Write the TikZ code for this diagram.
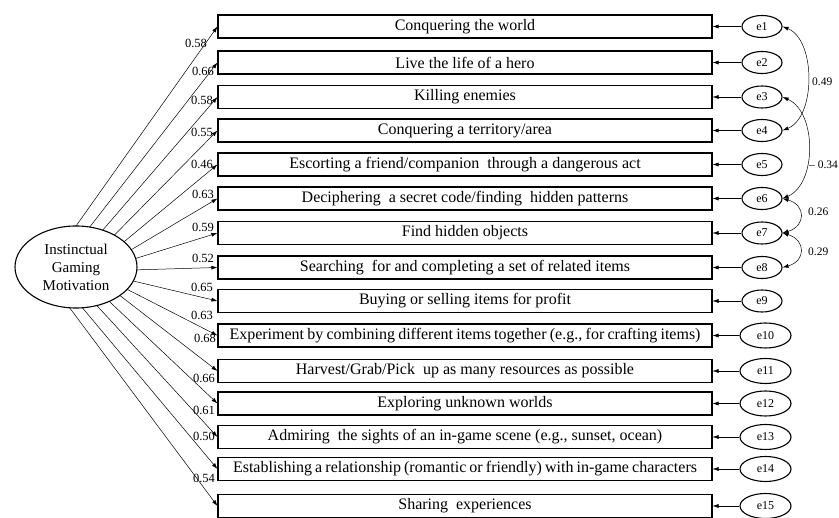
\documentclass[tikz,border=0pt]{standalone}
\usepackage{fontspec}
\setmainfont{Liberation Serif}
\usetikzlibrary{shapes.geometric,arrows.meta}
\begin{document}
\begin{tikzpicture}[x=1pt,y=1pt,
  item/.style={draw, line width=1.1pt, minimum width=494pt, minimum height=23pt, inner sep=0pt, font=\fontsize{16}{18}\selectfont},
  err/.style={draw, ellipse, line width=1.1pt, minimum width=40pt, minimum height=22pt, inner sep=0pt, font=\fontsize{12}{14}\selectfont},
  errw/.style={err, minimum width=51pt, minimum height=25pt},
  latent/.style={draw, ellipse, line width=1.1pt, minimum width=122pt, minimum height=82pt, inner sep=0pt, align=center, font=\fontsize{15}{18}\selectfont},
  load/.style={-{Latex[length=6pt,width=4pt]}, line width=0.5pt},
  cov/.style={{Latex[length=6pt,width=4pt]}-{Latex[length=6pt,width=4pt]}, line width=0.5pt},
  wt/.style={font=\fontsize{12.5}{14}\selectfont, inner sep=0pt},
  cw/.style={font=\fontsize{11.5}{14}\selectfont, inner sep=0pt},
]
\useasboundingbox (0,0) rectangle (839,-518);

\node[latent] (ig) at (76,-267) {Instinctual\\Gaming\\Motivation};

\node[item] (b1) at (465,-26.5) {Conquering the world};
\node[item] (b2) at (465,-62.5) {Live the life of a hero};
\node[item] (b3) at (465,-97) {Killing enemies};
\node[item] (b4) at (465,-130.5) {Conquering a territory/area};
\node[item] (b5) at (465,-164.5) {Escorting a friend/companion\ \ through a dangerous act};
\node[item] (b6) at (465,-198.5) {Deciphering\ \ a secret code/finding\ \ hidden patterns};
\node[item] (b7) at (465,-233) {Find hidden objects};
\node[item] (b8) at (465,-267.5) {Searching\ \ for and completing a set of related items};
\node[item] (b9) at (465,-301) {Buying or selling items for profit};
\node[item] (b10) at (465,-335.5) {\makebox[471pt][s]{Experiment by combining different items together (e.g., for crafting items)}};
\node[item] (b11) at (465,-371) {Harvest/Grab/Pick\ \ up as many resources as possible};
\node[item] (b12) at (465,-403.5) {Exploring unknown worlds};
\node[item] (b13) at (465,-437) {Admiring\ \ the sights of an in-game scene (e.g., sunset, ocean)};
\node[item] (b14) at (465,-469) {\makebox[464pt][s]{Establishing a relationship (romantic or friendly) with in-game characters}};
\node[item] (b15) at (465,-506) {Sharing\ \ experiences};

\foreach \i/\y in {1/-26.5,2/-62.5,3/-97,4/-130.5,5/-164.5,6/-198.5,7/-233,8/-267.5,9/-301}{
  \node[err] (e\i) at (762,\y) {e\i};
}
\foreach \i/\y in {10/-335.5,11/-371,12/-403.5,13/-437,14/-469,15/-506}{
  \node[errw] (e\i) at (765.5,\y) {e\i};
}
\foreach \i in {1,...,15}{
  \draw[load] (e\i.west) -- (b\i.east);
}

\foreach \i/\t in {1/90,2/77,3/64,4/51,5/38,6/25,7/12,8/-4,9/-20,10/-33,11/-44,12/-57,13/-70,14/-84,15/-96}{
  \draw[load] ([shift={(\t:61pt and 41pt)}]ig.center) -- (b\i.west);
}

\node[wt] (l1) at (196,-43) {0.58};
\node[wt] (l2) at (203,-71) {0.66};
\node[wt] (l3) at (202,-100) {0.58};
\node[wt] (l4) at (202,-132) {0.55};
\node[wt] (l5) at (202,-164) {0.46};
\node[wt] (l6) at (203,-194) {0.63};
\node[wt] (l7) at (203,-227) {0.59};
\node[wt] (l8) at (203,-258) {0.52};
\node[wt] (l9) at (202,-287) {0.65};
\node[wt] (l10) at (202,-315) {0.63};
\node[wt] (l11) at (205,-338) {0.68};
\node[wt] (l12) at (204,-378) {0.66};
\node[wt] (l13) at (204,-410) {0.61};
\node[wt] (l14) at (204,-436) {0.50};
\node[wt] (l15) at (204,-478) {0.54};

\draw[cov] (e1.east) .. controls (816,-40) and (816,-117) .. (e4.east);
\draw[cov] (e3.east) .. controls (817,-112) and (817,-184) .. (e6.east);
\draw[cov] (e6.east) .. controls (806,-205) and (806,-226) .. (e7.east);
\draw[cov] (e7.east) .. controls (806,-240) and (806,-261) .. (e8.east);

\node[cw, anchor=west] (c1) at (812,-82) {0.49};
\node[cw, anchor=west] (c2) at (809,-165) {\textendash\ 0.34};
\node[cw, anchor=west] (c3) at (808,-212) {0.26};
\node[cw, anchor=west] (c4) at (808,-252) {0.29};
\end{tikzpicture}
\end{document}
